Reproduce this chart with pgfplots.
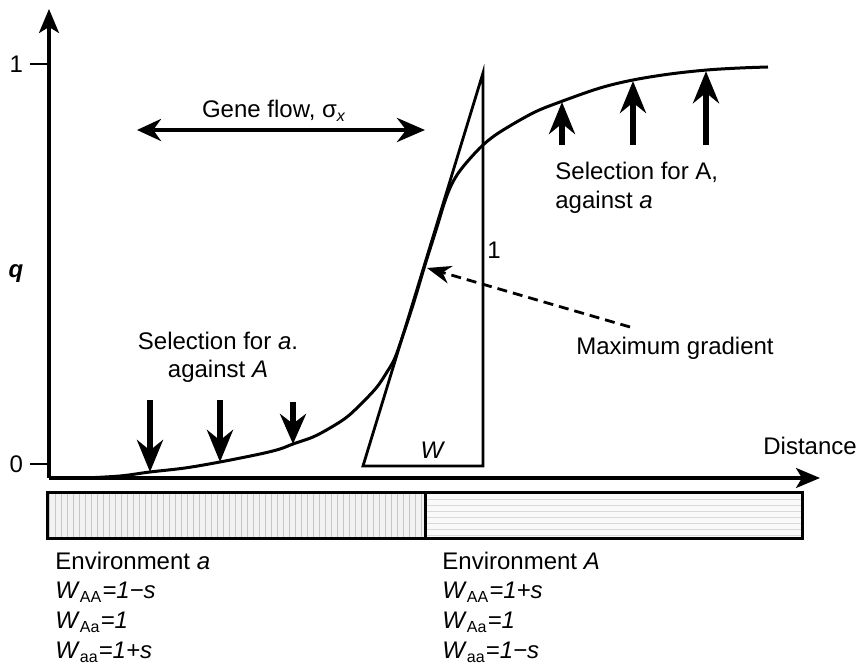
\documentclass[border=0pt]{standalone}
\usepackage{fontspec}
\setmainfont{Liberation Sans}
\usepackage{pgfplots}
\pgfplotsset{compat=1.18}
\usetikzlibrary{arrows.meta,patterns}
\begin{document}
\begin{tikzpicture}[font=\fontsize{12}{14.4}\selectfont, txt/.style={inner sep=0pt}]
\begin{axis}[
  x=0.5pt, y=200pt,
  xmin=49, xmax=820, ymin=-0.035, ymax=1.1375,
  axis lines=left,
  axis line style={line width=1.6pt, -{Stealth[length=12pt,width=10pt,inset=3pt]}},
  xtick=\empty, ytick={0,1},
  tick align=outside, major tick length=9.5pt,
  tick style={black, line width=1.4pt},
  yticklabel style={font=\fontsize{12}{14.4}\selectfont},
  /pgf/number format/assume math mode=true,
  clip=false,
]
% cline
\addplot[black, line width=1.5pt, smooth, tension=0.55] coordinates {
(85,-0.035) (120,-0.03) (150,-0.02) (185,-0.01) (220,0.005) (260,0.025)
(280,0.0375) (293,0.05) (313,0.0675) (330,0.09) (347,0.1175) (363,0.155)
(377,0.1925) (387,0.23) (394,0.26) (400,0.3) (413,0.3975) (425,0.4975)
(437,0.5925) (444,0.65) (450,0.69) (457,0.7225) (467,0.755) (483,0.7975)
(500,0.83) (533,0.8775) (560,0.905) (600,0.94) (633,0.96) (670,0.975)
(707,0.985) (740,0.99) (768,0.9925)};
% tangent triangle
\addplot[black, line width=1.4pt] coordinates {(363,-0.005) (483,-0.005) (483,0.9775)} -- cycle;
% gene flow arrow
\addplot[black, line width=2.4pt, {Stealth[length=12pt,width=11pt]}-{Stealth[length=14pt,width=12pt]}] coordinates {(137,0.835) (425,0.835)};
% selection arrows up
\addplot[black, line width=2.6pt, -{Stealth[length=16pt,width=13pt]}] coordinates {(562,0.7975) (562,0.905)};
\addplot[black, line width=2.6pt, -{Stealth[length=16pt,width=13pt]}] coordinates {(633,0.7975) (633,0.9575)};
\addplot[black, line width=2.6pt, -{Stealth[length=16pt,width=13pt]}] coordinates {(706,0.7975) (706,0.982)};
% selection arrows down
\addplot[black, line width=2.6pt, -{Stealth[length=16pt,width=13pt]}] coordinates {(150,0.16) (150,-0.02)};
\addplot[black, line width=2.6pt, -{Stealth[length=16pt,width=13pt]}] coordinates {(220,0.16) (220,0.005)};
\addplot[black, line width=2.6pt, -{Stealth[length=15pt,width=13pt]}] coordinates {(293,0.155) (293,0.05)};
% dashed max-gradient arrow
\addplot[black, line width=1.4pt, dash pattern=on 5pt off 3pt, -{Stealth[length=12pt,width=9pt]}] coordinates {(630,0.3425) (427,0.49)};
% environment bar
\addplot[draw=none, fill=gray!10, postaction={pattern=vertical lines, pattern color=gray!45}] coordinates {(48,-0.0725) (426,-0.0725) (426,-0.1875) (48,-0.1875)} -- cycle;
\addplot[draw=none, fill=gray!5, postaction={pattern=horizontal lines, pattern color=gray!30}] coordinates {(426,-0.0725) (802,-0.0725) (802,-0.1875) (426,-0.1875)} -- cycle;
\addplot[black, line width=1.5pt] coordinates {(48,-0.0725) (802,-0.0725) (802,-0.1875) (48,-0.1875)} -- cycle;
\addplot[black, line width=1.5pt] coordinates {(426,-0.0725) (426,-0.1875)};
% texts
\node[txt, anchor=base] at (axis cs:274,0.865) {Gene flow, σ\textsubscript{\itshape x}};
\node[txt, anchor=base west] at (axis cs:555,0.71) {Selection for A,};
\node[txt, anchor=base west] at (axis cs:555,0.6375) {against \textit{a}};
\node[txt, anchor=base] at (axis cs:218,0.285) {Selection for \textit{a}.};
\node[txt, anchor=base] at (axis cs:218,0.215) {against \textit{A}};
\node[txt, anchor=base] at (axis cs:675,0.2725) {Maximum gradient};
\node[txt, anchor=base west] at (axis cs:763,0.0225) {Distance};
\node[txt, anchor=base] at (axis cs:433,0.0125) {\textit{W}};
\node[txt, anchor=base] at (axis cs:494,0.5125) {1};
\node[txt, anchor=base] at (axis cs:16,0.465) {\bfseries\itshape q};
\node[txt, anchor=base west] at (axis cs:55,-0.265) {Environment \textit{a}};
\node[txt, anchor=base west] at (axis cs:55,-0.3375) {\textit{W}\textsubscript{AA}\textit{=1−s}};
\node[txt, anchor=base west] at (axis cs:55,-0.4125) {\textit{W}\textsubscript{Aa}\textit{=1}};
\node[txt, anchor=base west] at (axis cs:55,-0.4875) {\textit{W}\textsubscript{aa}\textit{=1+s}};
\node[txt, anchor=base west] at (axis cs:442,-0.265) {Environment \textit{A}};
\node[txt, anchor=base west] at (axis cs:442,-0.3375) {\textit{W}\textsubscript{AA}\textit{=1+s}};
\node[txt, anchor=base west] at (axis cs:442,-0.4125) {\textit{W}\textsubscript{Aa}\textit{=1}};
\node[txt, anchor=base west] at (axis cs:442,-0.4875) {\textit{W}\textsubscript{aa}\textit{=1−s}};
\coordinate (bl) at (axis cs:0,-0.51);
\coordinate (tr) at (axis cs:859,1.16);
\end{axis}
\pgfresetboundingbox
\useasboundingbox (bl) rectangle (tr);
\end{tikzpicture}
\end{document}
